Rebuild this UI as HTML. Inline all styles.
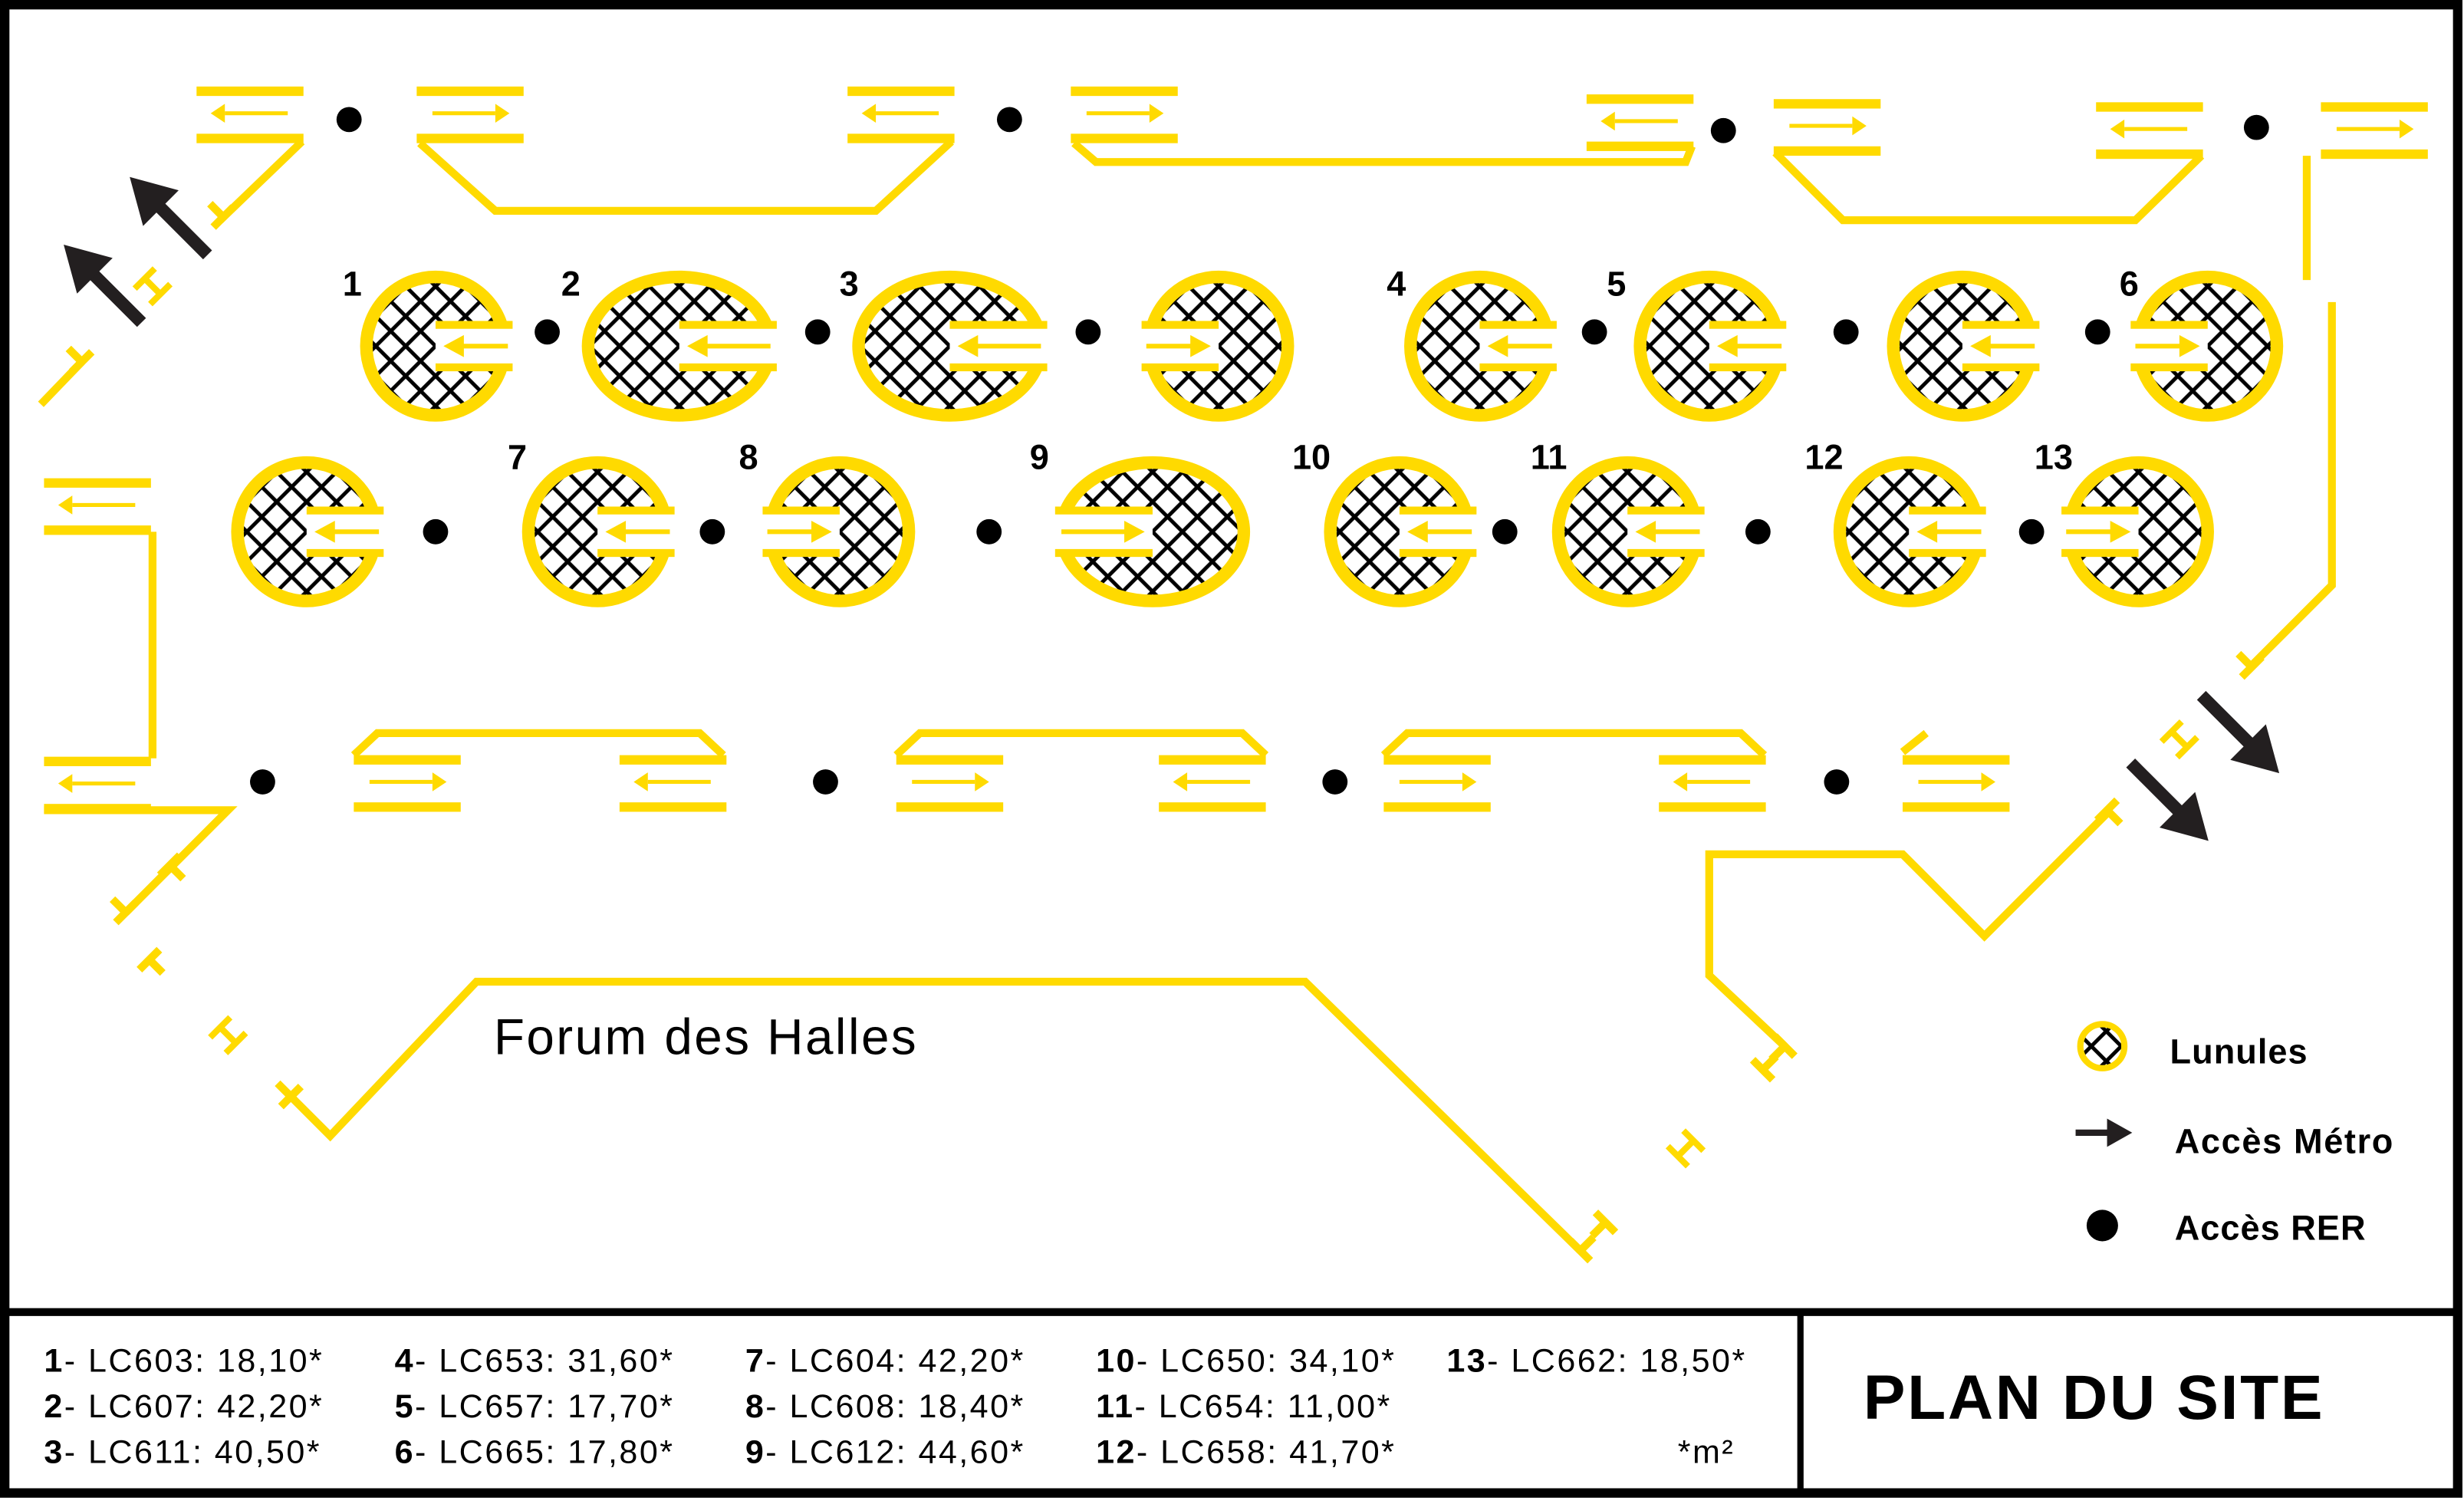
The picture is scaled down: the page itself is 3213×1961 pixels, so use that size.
<!DOCTYPE html>
<html><head><meta charset="utf-8"><style>
html,body{margin:0;padding:0;background:#fff}
svg{display:block}
text{font-family:"Liberation Sans",sans-serif}
</style></head><body>
<svg width="3213" height="1961" viewBox="0 0 1567 956" preserveAspectRatio="none" xmlns="http://www.w3.org/2000/svg">
<defs>
<pattern id="h" patternUnits="userSpaceOnUse" width="19" height="19">
<path d="M-3,3 L3,-3 M0,19 L19,0 M16,22 L22,16 M-3,16 L3,22 M0,0 L19,19 M16,-3 L22,3" stroke="#000" stroke-width="2.4"/>
</pattern>
<g id="L48">
<ellipse cx="0" cy="0" rx="44" ry="44" fill="url(#h)" stroke="#FFDA00" stroke-width="8"/>
<rect x="0" y="-12" width="60" height="24" fill="#fff"/>
<rect x="0" y="-16" width="49" height="5" fill="#FFDA00"/>
<rect x="0" y="11" width="49" height="5" fill="#FFDA00"/>
<line x1="46" y1="0" x2="14" y2="0" stroke="#FFDA00" stroke-width="3"/>
<polygon points="5,0 18,-7 18,7" fill="#FFDA00"/>
</g>
<g id="L62">
<ellipse cx="0" cy="0" rx="58" ry="44" fill="url(#h)" stroke="#FFDA00" stroke-width="8"/>
<rect x="0" y="-12" width="75" height="24" fill="#fff"/>
<rect x="0" y="-16" width="62" height="5" fill="#FFDA00"/>
<rect x="0" y="11" width="62" height="5" fill="#FFDA00"/>
<line x1="58" y1="0" x2="14" y2="0" stroke="#FFDA00" stroke-width="3"/>
<polygon points="5,0 18,-7 18,7" fill="#FFDA00"/>
</g>
<g id="BL"><rect x="0" y="-17" width="68" height="6" fill="#FFDA00"/><rect x="0" y="13" width="68" height="6" fill="#FFDA00"/><line x1="58" y1="0" x2="18" y2="0" stroke="#FFDA00" stroke-width="2.5"/><polygon points="9,0 18,-6 18,6" fill="#FFDA00"/></g>
<g id="BR"><rect x="0" y="-17" width="68" height="6" fill="#FFDA00"/><rect x="0" y="13" width="68" height="6" fill="#FFDA00"/><line x1="10" y1="0" x2="50" y2="0" stroke="#FFDA00" stroke-width="2.5"/><polygon points="59,0 50,-6 50,6" fill="#FFDA00"/></g>
<g id="T"><line x1="0" y1="0" x2="0" y2="-12" stroke="#FFDA00" stroke-width="5"/><line x1="-9" y1="0" x2="9" y2="0" stroke="#FFDA00" stroke-width="5"/></g>
<g id="H"><line x1="-7" y1="-9" x2="-7" y2="9" stroke="#FFDA00" stroke-width="4"/><line x1="7" y1="-9" x2="7" y2="9" stroke="#FFDA00" stroke-width="4"/><line x1="-7" y1="0" x2="7" y2="0" stroke="#FFDA00" stroke-width="4"/></g>
<g id="MA"><line x1="0" y1="0" x2="52" y2="0" stroke="#231f20" stroke-width="8"/><polygon points="70,0 42,-16 42,16" fill="#231f20"/></g>
</defs>
<rect x="0" y="0" width="1567" height="956" fill="#fff"/>

<use href="#L48" transform="translate(277,220)"/>
<use href="#L62" transform="translate(432,220)"/>
<use href="#L62" transform="translate(604,220)"/>
<use href="#L48" transform="translate(775,220) scale(-1,1)"/>
<use href="#L48" transform="translate(941,220)"/>
<use href="#L48" transform="translate(1087,220)"/>
<use href="#L48" transform="translate(1248,220)"/>
<use href="#L48" transform="translate(1404,220) scale(-1,1)"/>
<use href="#L48" transform="translate(195,338)"/>
<use href="#L48" transform="translate(380,338)"/>
<use href="#L48" transform="translate(534,338) scale(-1,1)"/>
<use href="#L62" transform="translate(733,338) scale(-1,1)"/>
<use href="#L48" transform="translate(890,338)"/>
<use href="#L48" transform="translate(1035,338)"/>
<use href="#L48" transform="translate(1214,338)"/>
<use href="#L48" transform="translate(1360,338) scale(-1,1)"/>

<g font-size="22" font-weight="bold" fill="#000" text-anchor="middle">
<text x="224" y="188">1</text><text x="363" y="188">2</text><text x="540" y="188">3</text><text x="888" y="188">4</text><text x="1028" y="188">5</text><text x="1354" y="188">6</text>
<text x="329" y="298">7</text><text x="476" y="298">8</text><text x="661" y="298">9</text><text x="834" y="298">10</text><text x="985" y="298">11</text><text x="1160" y="298">12</text><text x="1306" y="298">13</text>
</g>

<g fill="#000">
<circle cx="348" cy="211" r="8"/><circle cx="520" cy="211" r="8"/><circle cx="692" cy="211" r="8"/><circle cx="1014" cy="211" r="8"/><circle cx="1174" cy="211" r="8"/><circle cx="1334" cy="211" r="8"/>
<circle cx="277" cy="338" r="8"/><circle cx="453" cy="338" r="8"/><circle cx="629" cy="338" r="8"/><circle cx="957" cy="338" r="8"/><circle cx="1118" cy="338" r="8"/><circle cx="1292" cy="338" r="8"/>
<circle cx="222" cy="76" r="8"/><circle cx="642" cy="76" r="8"/><circle cx="1096" cy="83" r="8"/><circle cx="1435" cy="81" r="8"/>
<circle cx="167" cy="497" r="8"/><circle cx="525" cy="497" r="8"/><circle cx="849" cy="497" r="8"/><circle cx="1168" cy="497" r="8"/>
</g>

<use href="#BL" transform="translate(125,72)"/>
<use href="#BR" transform="translate(265,72)"/>
<use href="#BL" transform="translate(539,72)"/>
<use href="#BR" transform="translate(681,72)"/>
<use href="#BL" transform="translate(1009,77)"/>
<use href="#BR" transform="translate(1128,80)"/>
<use href="#BL" transform="translate(1333,82)"/>
<use href="#BR" transform="translate(1476,82)"/>
<g fill="none" stroke="#FFDA00" stroke-width="5">
<polyline points="192,90 140,140"/>
<polyline points="267,91 315,134 557,134 605,90"/>
<polyline points="683,91 697,103 1072,103 1076,93"/>
<polyline points="1129,97 1172,140 1358,140 1400,99"/>
<polyline points="1467,99 1467,178"/>
<polyline points="1483,192 1483,372 1433,422"/>
<polyline points="97,338 97,482"/>
<polyline points="28,515 145,515 80,580"/>
<polyline points="185,697 210,722 303,624 830,624 1005,795"/>
<polyline points="1135,665 1087,620 1087,543 1210,543 1262,595 1340,517"/>
<polyline points="225,480 240,466 445,466 460,480"/>
<polyline points="570,480 585,466 790,466 805,480"/>
<polyline points="880,480 895,466 1107,466 1122,480"/>
<polyline points="1210,478 1225,466"/>
<line x1="26" y1="257" x2="52" y2="230"/>
</g>
<use href="#T" transform="translate(142,138) rotate(-45)"/>
<use href="#T" transform="translate(52,230) rotate(-45)"/>
<use href="#H" transform="translate(97,182) rotate(45)"/>
<use href="#MA" transform="translate(132,162) rotate(-135)"/>
<use href="#MA" transform="translate(90,205) rotate(-135)"/>
<use href="#T" transform="translate(1432,424) rotate(-45)"/>
<use href="#H" transform="translate(1386,470) rotate(45)"/>
<use href="#MA" transform="translate(1400,442) rotate(45)"/>
<use href="#MA" transform="translate(1355,485) rotate(45)"/>
<use href="#T" transform="translate(1340,515) rotate(135)"/>
<use href="#BL" transform="translate(28,321)"/>
<use href="#BL" transform="translate(28,498)"/>
<use href="#T" transform="translate(108,550) rotate(135)"/>
<use href="#T" transform="translate(80,580) rotate(-45)"/>
<use href="#T" transform="translate(95,610) rotate(135)"/>
<use href="#H" transform="translate(145,658) rotate(45)"/>
<use href="#T" transform="translate(185,697) rotate(-45)"/>
<use href="#T" transform="translate(1005,795) rotate(45)"/>
<use href="#T" transform="translate(1021,777) rotate(-135)"/>
<use href="#H" transform="translate(1072,730) rotate(-45)"/>
<use href="#T" transform="translate(1121,680) rotate(45)"/>
<use href="#T" transform="translate(1135,665) rotate(-135)"/>
<use href="#BR" transform="translate(225,497)"/>
<use href="#BL" transform="translate(394,497)"/>
<use href="#BR" transform="translate(570,497)"/>
<use href="#BL" transform="translate(737,497)"/>
<use href="#BR" transform="translate(880,497)"/>
<use href="#BL" transform="translate(1055,497)"/>
<use href="#BR" transform="translate(1210,497)"/>

<text x="314" y="670" font-size="32" fill="#000" letter-spacing="1.2">Forum des Halles</text>

<circle cx="1337" cy="665" r="14" fill="url(#h)" stroke="#FFDA00" stroke-width="4"/>
<text x="1380" y="676" font-size="22" font-weight="bold" fill="#000" letter-spacing="0.5">Lunules</text>
<line x1="1320" y1="720" x2="1342" y2="720" stroke="#231f20" stroke-width="4"/>
<polygon points="1356,720 1340,711 1340,729" fill="#231f20"/>
<text x="1383" y="733" font-size="22" font-weight="bold" fill="#000" letter-spacing="0.8">Accès Métro</text>
<circle cx="1337" cy="779" r="10" fill="#000"/>
<text x="1383" y="788" font-size="22" font-weight="bold" fill="#000" letter-spacing="0.5">Accès RER</text>

<rect x="3" y="3" width="1560" height="946" fill="none" stroke="#000" stroke-width="6"/>
<line x1="3" y1="834" x2="1563" y2="834" stroke="#000" stroke-width="5"/>
<line x1="1145" y1="834" x2="1145" y2="950" stroke="#000" stroke-width="4"/>
<g font-size="21" fill="#000" letter-spacing="1.2">
<text x="28" y="872"><tspan font-weight="bold">1</tspan>- LC603: 18,10*</text>
<text x="28" y="901"><tspan font-weight="bold">2</tspan>- LC607: 42,20*</text>
<text x="28" y="930"><tspan font-weight="bold">3</tspan>- LC611: 40,50*</text>
<text x="251" y="872"><tspan font-weight="bold">4</tspan>- LC653: 31,60*</text>
<text x="251" y="901"><tspan font-weight="bold">5</tspan>- LC657: 17,70*</text>
<text x="251" y="930"><tspan font-weight="bold">6</tspan>- LC665: 17,80*</text>
<text x="474" y="872"><tspan font-weight="bold">7</tspan>- LC604: 42,20*</text>
<text x="474" y="901"><tspan font-weight="bold">8</tspan>- LC608: 18,40*</text>
<text x="474" y="930"><tspan font-weight="bold">9</tspan>- LC612: 44,60*</text>
<text x="697" y="872"><tspan font-weight="bold">10</tspan>- LC650: 34,10*</text>
<text x="697" y="901"><tspan font-weight="bold">11</tspan>- LC654: 11,00*</text>
<text x="697" y="930"><tspan font-weight="bold">12</tspan>- LC658: 41,70*</text>
<text x="920" y="872"><tspan font-weight="bold">13</tspan>- LC662: 18,50*</text>
<text x="1067" y="930">*m²</text>
</g>
<text x="1185" y="902" font-size="40" font-weight="bold" fill="#000" letter-spacing="1.3">PLAN DU SITE</text>
</svg>
</body></html>
